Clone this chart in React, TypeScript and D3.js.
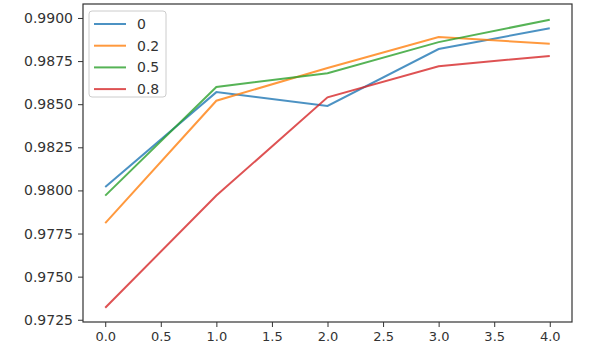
import React, { useRef, useEffect } from "react";
import * as d3 from "d3";

const xValues = [0, 1, 2, 3, 4];
const xTicks = [0, 0.5, 1, 1.5, 2, 2.5, 3, 3.5, 4];
const yTicks = [0.9725, 0.975, 0.9775, 0.98, 0.9825, 0.985, 0.9875, 0.99];

const seriesNames = ["0", "0.2", "0.5", "0.8"];
const seriesColors = ["#1f77b4", "#ff7f0e", "#2ca02c", "#d62728"];
const values0 = [0.9802, 0.9857, 0.9849, 0.9882, 0.9894];
const values02 = [0.9781, 0.9852, 0.9871, 0.9889, 0.9885];
const values05 = [0.9797, 0.986, 0.9868, 0.9886, 0.9899];
const values08 = [0.9732, 0.9797, 0.9854, 0.9872, 0.9878];
const seriesValues = [values0, values02, values05, values08];

export default function App() {
  const svgRef = useRef<SVGSVGElement>(null);

  useEffect(() => {
    document.body.style.margin = "0";
    if (!svgRef.current) return;
    const svg = d3.select(svgRef.current);
    svg.selectAll("*").remove();

    const width = 595;
    const height = 351;
    const margin = { top: 4, right: 23, bottom: 29, left: 83 };
    const innerWidth = width - margin.left - margin.right;
    const innerHeight = height - margin.top - margin.bottom;
    const font = "'DejaVu Sans', sans-serif";

    const xScale = d3.scaleLinear().domain([-0.2, 4.2]).range([0, innerWidth]);
    const yScale = d3.scaleLinear().domain([0.97237, 0.99081]).range([innerHeight, 0]);

    const g = svg.append("g").attr("transform", `translate(${margin.left},${margin.top})`);

    // lines
    const line = d3.line<number>()
      .x((_, i) => xScale(xValues[i]))
      .y(d => yScale(d));

    seriesValues.forEach((vals, i) => {
      g.append("path")
        .datum(vals)
        .attr("fill", "none")
        .attr("stroke", seriesColors[i])
        .attr("stroke-width", 2)
        .attr("stroke-opacity", 0.8)
        .attr("d", line);
    });

    // axes
    const xAxis = g.append("g")
      .attr("transform", `translate(0,${innerHeight})`)
      .call(d3.axisBottom(xScale).tickValues(xTicks).tickFormat(d3.format(".1f")).tickSize(5).tickPadding(5).tickSizeOuter(0));
    const yAxis = g.append("g")
      .call(d3.axisLeft(yScale).tickValues(yTicks).tickFormat(d3.format(".4f")).tickSize(5).tickPadding(5).tickSizeOuter(0));

    [xAxis, yAxis].forEach((ax, k) => {
      ax.select(".domain").remove();
      ax.selectAll("line").style("stroke", "#333").style("stroke-width", 1);
      ax.selectAll("text")
        .style("font-family", font)
        .style("font-size", k === 0 ? "13px" : "14px")
        .style("fill", "#333");
    });

    // frame
    g.append("rect")
      .attr("width", innerWidth)
      .attr("height", innerHeight)
      .attr("fill", "none")
      .attr("stroke", "#333")
      .attr("stroke-width", 1.2);

    // legend
    const legend = g.append("g").attr("transform", "translate(6,7)");
    legend.append("rect")
      .attr("width", 77)
      .attr("height", 86)
      .attr("rx", 3)
      .attr("fill", "#fff")
      .attr("fill-opacity", 0.8)
      .attr("stroke", "#ccc");

    seriesNames.forEach((name, i) => {
      const y = 13 + i * 21.7;
      legend.append("line")
        .attr("x1", 5)
        .attr("x2", 37)
        .attr("y1", y)
        .attr("y2", y)
        .attr("stroke", seriesColors[i])
        .attr("stroke-width", 2)
        .attr("stroke-opacity", 0.8);
      legend.append("text")
        .attr("x", 48)
        .attr("y", y + 5)
        .style("font-family", font)
        .style("font-size", "14px")
        .style("fill", "#333")
        .text(name);
    });
  }, []);

  return <svg ref={svgRef} width={595} height={351} style={{ display: "block", background: "#fff" }} />;
}
